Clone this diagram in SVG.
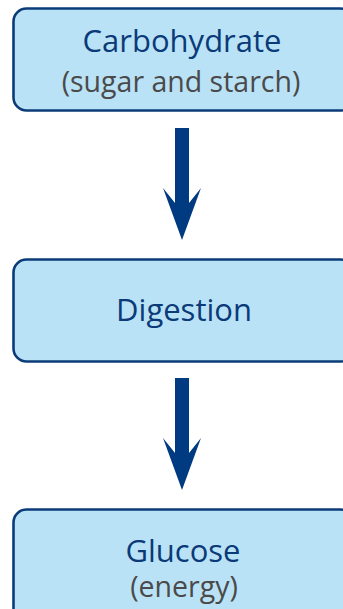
<svg xmlns="http://www.w3.org/2000/svg" width="343" height="609" viewBox="0 0 343 609">
<style>
.box{fill:#bae2f6;stroke:#0b3c78;stroke-width:2.6}
.title{font-family:"Open Sans","Noto Sans",sans-serif;font-size:31px;font-weight:500;fill:#0a3a78;text-anchor:middle}
.sub{font-family:"Open Sans","Noto Sans",sans-serif;font-size:28.5px;fill:#4a4a4a;text-anchor:middle}
.arrow{fill:#003a80}
</style>
<rect width="343" height="609" fill="#ffffff"/>
<g id="connectors">
<path class="arrow" d="M175,128 H189 V203 L201,188 L182,240 L163,188 L175,203 Z"/>
<path class="arrow" d="M175,378 H189 V453 L201,438 L182,490 L163,438 L175,453 Z"/>
</g>
<g id="carbohydrate">
<rect class="box" x="13.5" y="8.5" width="340" height="102" rx="13"/>
<text class="title" x="182" y="51.5">Carbohydrate</text>
<text class="sub" x="181" y="91.5">(sugar and starch)</text>
</g>
<g id="digestion">
<rect class="box" x="13.5" y="259.5" width="340" height="102" rx="13"/>
<text class="title" x="184" y="321">Digestion</text>
</g>
<g id="glucose">
<rect class="box" x="13.5" y="509.5" width="340" height="130" rx="13"/>
<text class="title" x="183" y="561.5">Glucose</text>
<text class="sub" x="184" y="597">(energy)</text>
</g>
</svg>
